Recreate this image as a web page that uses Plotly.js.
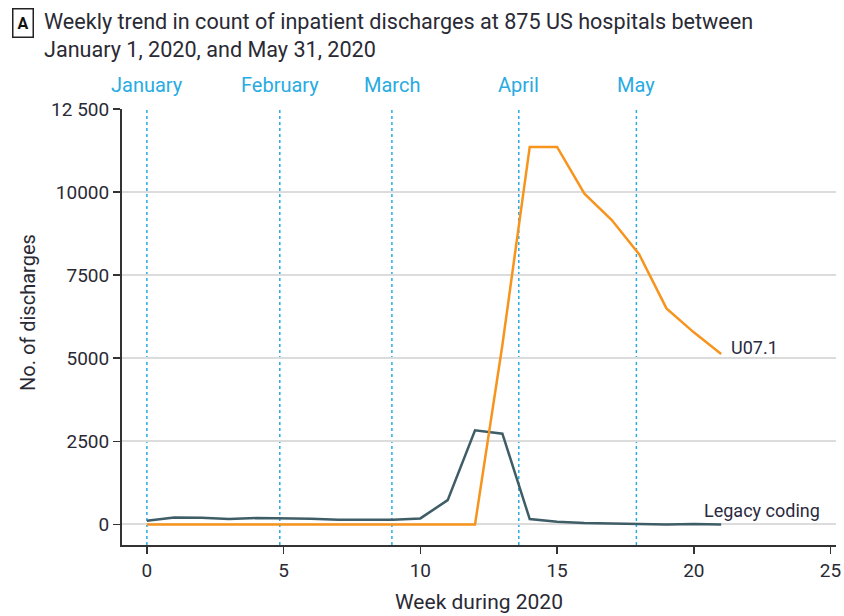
<!DOCTYPE html>
<html><head><meta charset="utf-8">
<script src="https://cdn.plot.ly/plotly-3.0.1.min.js"></script>
<style>body{margin:0;background:#fff}#c{width:844px;height:616px}</style>
</head><body><div id="c"></div>
<script>
const weeks = [0,1,2,3,4,5,6,7,8,9,10,11,12,13,14,15,16,17,18,19,20,21];
const legacy = [110,210,200,160,190,190,170,140,140,140,180,730,2830,2730,160,80,40,20,20,0,10,0];
const u071 = [0,0,0,0,0,0,0,0,0,0,0,0,0,5400,11360,11360,9950,9160,8130,6500,5780,5130];
const months = ["January","February","March","April","May"];
const monthWeeks = [0,4.86,8.96,13.6,17.9];
const yTicks = [0,2500,5000,7500,10000,12500];
const yTickText = ["0","2500","5000","7500","10000","12 500"];
const xTicks = [0,5,10,15,20,25];

const FONT = "Roboto, sans-serif";
const L = 122, R = 8, W = 844, T = 109, B = 71, H = 616;
const pw = W - L - R, ph = H - T - B;
const px = p => (p - L) / pw;
const py = p => (H - B - p) / ph;

const shapes = monthWeeks.map(w => ({type:'line', xref:'x', yref:'paper', x0:w, x1:w, y0:0, y1:1,
  line:{color:'#29abe2', width:1.5, dash:'dot'}, layer:'below'}));

const annotations = monthWeeks.map((w,i) => ({xref:'x', yref:'paper', x:w, y:1, yshift:24,
  text:months[i], showarrow:false, xanchor:'center', yanchor:'middle',
  font:{family:FONT, size:20, color:'#29abe2'}}));

annotations.push({xref:'paper', yref:'paper', x:px(12), y:1, yshift:86, xanchor:'left', yanchor:'middle',
  text:'<b>A</b>', showarrow:false, bordercolor:'#222', borderwidth:1.5, borderpad:4,
  font:{family:FONT, size:16, color:'#111'}});
annotations.push({xref:'paper', yref:'paper', x:px(42), y:1, yshift:74, xanchor:'left', yanchor:'middle',
  align:'left', text:'Weekly trend in count of inpatient discharges at 875 US hospitals between<br>January 1, 2020, and May 31, 2020',
  showarrow:false, font:{family:FONT, size:21.6, color:'#2a2a35'}});
annotations.push({xref:'paper', yref:'paper', x:px(28), y:py(313), xanchor:'center', yanchor:'middle',
  textangle:-90, text:'No. of discharges', showarrow:false, font:{family:FONT, size:20, color:'#2a2a35'}});
annotations.push({xref:'x', yref:'y', x:21, y:5130, xshift:8, xanchor:'left', yanchor:'bottom', yshift:-6,
  text:'U07.1', showarrow:false, font:{family:FONT, size:18, color:'#2a2a40'}});
annotations.push({xref:'x', yref:'y', x:24.67, y:0, xanchor:'right', yanchor:'bottom', yshift:1,
  text:'Legacy coding', showarrow:false, font:{family:FONT, size:18, color:'#2a2a40'}});

const data = [
  {x:weeks, y:legacy, type:'scatter', mode:'lines', line:{color:'#3e5d66', width:2.5}, name:'Legacy coding'},
  {x:weeks, y:u071, type:'scatter', mode:'lines', line:{color:'#f7941d', width:2.5}, name:'U07.1'}
];

const layout = {
  width:844, height:616,
  margin:{l:L, r:R, t:T, b:B},
  paper_bgcolor:'#fff', plot_bgcolor:'#fff',
  showlegend:false,
  font:{family:FONT, color:'#2a2a35'},
  xaxis:{range:[-0.91,25.2], tickvals:xTicks, showgrid:false, zeroline:false,
    showline:true, linecolor:'#333', linewidth:2, ticks:'outside', ticklen:7, tickwidth:1.5, tickcolor:'#333',
    tickfont:{family:FONT, size:19, color:'#2a2a35'},
    title:{text:'Week during 2020', font:{family:FONT, size:21, color:'#2a2a35'}, standoff:14}},
  yaxis:{range:[-620,12500], tickvals:yTicks, ticktext:yTickText, showgrid:true, gridcolor:'#dcdcdc', gridwidth:2,
    zeroline:false, showline:true, linecolor:'#333', linewidth:2, ticks:'outside', ticklen:7, tickwidth:1.5, tickcolor:'#333',
    tickfont:{family:FONT, size:19, color:'#2a2a35'}},
  shapes:shapes,
  annotations:annotations
};
Plotly.newPlot('c', data, layout, {displayModeBar:false, staticPlot:true});
</script></body></html>
